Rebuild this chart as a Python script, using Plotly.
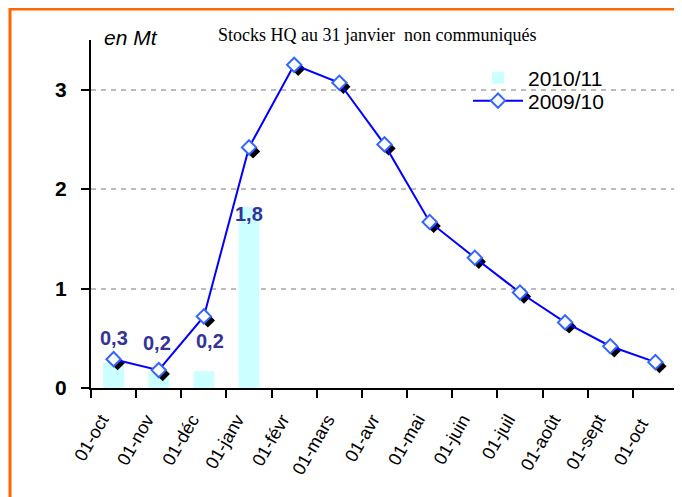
import plotly.graph_objects as go

categories = ["01-oct", "01-nov", "01-déc", "01-janv", "01-févr", "01-mars", "01-avr",
              "01-mai", "01-juin", "01-juil", "01-août", "01-sept", "01-oct "]
stocks_2010_11 = [0.26, 0.16, 0.17, 1.82]
stocks_2009_10 = [0.29, 0.18, 0.72, 2.42, 3.25, 3.07, 2.45, 1.67, 1.31, 0.96, 0.66, 0.42, 0.26]
y_ticks = [0, 1, 2, 3]

OFF = 8  # page body margin
W, H = 682 - OFF, 497 - OFF
PL, PR, PT, PB = 91, 678, 40, 388  # plot area in window pixels
ML, MR, MT, MB = PL - OFF, 682 - PR, PT - OFF, 497 - PB
pw, ph = PR - PL, PB - PT
ncat = len(categories)
px_per_cat = pw / ncat
px_per_unit = ph / 3.5
FONT = "Liberation Sans"

fig = go.Figure()

fig.add_trace(go.Bar(
    x=categories[:len(stocks_2010_11)], y=stocks_2010_11, name="2010/11",
    marker=dict(color="#CCFFFF", line=dict(width=0)), width=0.46,
    xaxis="x", yaxis="y", showlegend=True, legend="legend",
))

# shadow markers (offset a few pixels through shifted invisible axes)
fig.add_trace(go.Scatter(
    x=categories, y=stocks_2009_10, mode="markers",
    marker=dict(symbol="diamond", size=11, color="black", line=dict(width=0)),
    xaxis="x2", yaxis="y2", showlegend=False, hoverinfo="skip",
))

fig.add_trace(go.Scatter(
    x=categories, y=stocks_2009_10, mode="lines+markers", name="2009/10",
    line=dict(color="#0000FF", width=2),
    marker=dict(symbol="diamond", size=11, color="white", line=dict(color="#3366FF", width=2)),
    xaxis="x3", yaxis="y3", showlegend=True, legend="legend2",
))

shifts = [24, 29, 30, -7]
xoff = [0, -2, 6, 0]
for c, v, s, dx in zip(categories, stocks_2010_11, shifts, xoff):
    fig.add_annotation(
        x=c, y=v, xref="x", yref="y", text=f"{v:.1f}".replace(".", ","),
        showarrow=False, yshift=s, xshift=dx, yanchor="middle",
        font=dict(family=FONT, size=20, color="#333399", weight="bold"),
    )

dx_cat = 4 / px_per_cat
dy_unit = 4 / px_per_unit

def px_x(p):
    return (p - PL) / pw

def px_y(p):
    return (PB - p) / ph

legend_style = dict(xanchor="left", yanchor="middle", bgcolor="rgba(0,0,0,0)",
                    font=dict(family=FONT, size=21, color="black"), itemwidth=50)

fig.update_layout(
    width=W, height=H,
    margin=dict(l=ML, r=MR, t=MT, b=MB, autoexpand=False),
    paper_bgcolor="white", plot_bgcolor="white",
    barmode="overlay",
    xaxis=dict(
        type="category", categoryorder="array", categoryarray=categories,
        range=[-0.5, ncat - 0.5], showgrid=False, zeroline=False,
        showline=True, linecolor="black", linewidth=2,
        ticks="outside", ticklen=8, tickwidth=2, tickcolor="black",
        tickson="boundaries", tickangle=-60,
        ticklabelstandoff=12, ticklabelshift=-12,
        tickfont=dict(family=FONT, size=18, color="black"),
    ),
    yaxis=dict(
        range=[0, 3.5], tickvals=y_ticks, ticktext=[str(t) for t in y_ticks],
        showgrid=True, gridcolor="#BBBBBB", griddash="5px,5px", gridwidth=2,
        zeroline=False, showline=True, linecolor="black", linewidth=2,
        ticks="outside", ticklen=8, tickwidth=2, tickcolor="black",
        ticklabelstandoff=10,
        tickfont=dict(family=FONT, size=21, color="black", weight="bold"),
    ),
    xaxis2=dict(type="category", categoryorder="array", categoryarray=categories,
                range=[-0.5 - dx_cat, ncat - 0.5 - dx_cat], overlaying="x", visible=False),
    yaxis2=dict(range=[dy_unit, 3.5 + dy_unit], overlaying="y", visible=False),
    xaxis3=dict(type="category", categoryorder="array", categoryarray=categories,
                range=[-0.5, ncat - 0.5], overlaying="x", visible=False),
    yaxis3=dict(range=[0, 3.5], overlaying="y", visible=False),
    legend=dict(x=px_x(468), y=px_y(78), **legend_style),
    legend2=dict(x=px_x(468), y=px_y(101), **legend_style),
    showlegend=True,
)

fig.add_shape(type="rect", xref="paper", yref="paper",
              x0=px_x(432), x1=px_x(652), y0=px_y(112), y1=px_y(62),
              fillcolor="white", line=dict(width=0), layer="below")
fig.add_shape(type="rect", xref="paper", yref="paper",
              x0=px_x(10), x1=px_x(700), y0=px_y(520), y1=px_y(9),
              line=dict(color="#FF6600", width=3), fillcolor="rgba(0,0,0,0)")

fig.add_annotation(xref="paper", yref="paper", x=px_x(377), y=px_y(35),
                   text="Stocks HQ au 31 janvier  non communiqués", showarrow=False,
                   xanchor="center", yanchor="middle",
                   font=dict(family="Liberation Serif", size=18, color="black"))
fig.add_annotation(xref="paper", yref="paper", x=px_x(102), y=px_y(37),
                   text="<i>en Mt</i>", showarrow=False, xanchor="left", yanchor="middle",
                   font=dict(family=FONT, size=21, color="black"))

fig.write_html("out.html")
